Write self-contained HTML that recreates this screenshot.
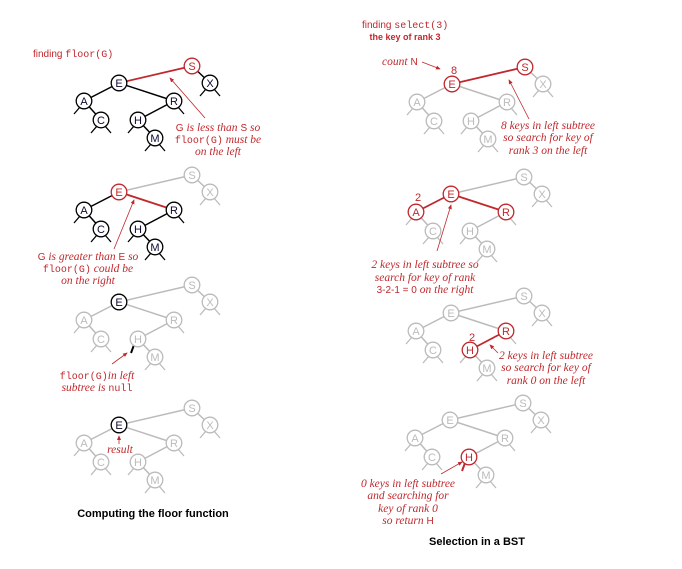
<!DOCTYPE html>
<html><head><meta charset="utf-8">
<style>
body{margin:0;background:#fff;}
svg{display:block;}
.an{font-family:"Liberation Serif",serif;font-style:italic;font-size:11.5px;fill:#c0282d;}
.mo{font-family:"Liberation Mono",monospace;font-style:normal;font-size:10px;}
.sn{font-family:"Liberation Sans",sans-serif;font-style:normal;font-size:10px;}
.tt{font-family:"Liberation Sans",sans-serif;font-weight:bold;font-size:11px;fill:#000;}
.hd{font-family:"Liberation Sans",sans-serif;font-size:10px;fill:#c0282d;}
</style></head>
<body>
<svg id="c" width="682" height="569" viewBox="0 0 682 569">
<defs><marker id="ar" markerWidth="6" markerHeight="6" refX="5" refY="3" orient="auto"><path d="M0,0.5 L6,3 L0,5.5 z" fill="#c0282d"/></marker></defs>
<g id="trees"></g>
<g>
<text class="hd" x="33" y="57">finding <tspan class="mo">floor(G)</tspan></text>
<text class="an" text-anchor="middle"><tspan x="218" y="131"><tspan class="sn">G</tspan> is less than <tspan class="sn">S</tspan> so</tspan><tspan x="218" y="143"><tspan class="mo">floor(G)</tspan> must be</tspan><tspan x="218" y="155">on the left</tspan></text>
<line x1="205" y1="118" x2="170" y2="78" stroke="#c0282d" stroke-width="0.8" marker-end="url(#ar)"/>
<text class="an" text-anchor="middle"><tspan x="88" y="260"><tspan class="sn">G</tspan> is greater than <tspan class="sn">E</tspan> so</tspan><tspan x="88" y="272"><tspan class="mo">floor(G)</tspan> could be</tspan><tspan x="88" y="284">on the right</tspan></text>
<line x1="114" y1="249" x2="134" y2="200" stroke="#c0282d" stroke-width="0.8" marker-end="url(#ar)"/>
<text class="an" text-anchor="middle"><tspan x="97" y="379"><tspan class="mo">floor(G)</tspan>in left</tspan><tspan x="97" y="391">subtree is <tspan class="mo">null</tspan></tspan></text>
<line x1="112" y1="364" x2="127" y2="353" stroke="#c0282d" stroke-width="0.8" marker-end="url(#ar)"/>
<text class="an" x="120" y="453" text-anchor="middle">result</text>
<line x1="119" y1="444" x2="119" y2="436" stroke="#c0282d" stroke-width="0.8" marker-end="url(#ar)"/>
<text class="tt" x="153" y="517" text-anchor="middle">Computing the floor function</text>

<text class="hd" x="362" y="28">finding <tspan class="mo">select(3)</tspan></text>
<text class="hd" x="405" y="40" text-anchor="middle" style="font-weight:bold;font-size:9px">the key of rank 3</text>
<text class="an" x="382" y="65">count <tspan class="sn">N</tspan></text>
<line x1="422" y1="62" x2="440" y2="69" stroke="#c0282d" stroke-width="0.8" marker-end="url(#ar)"/>
<text class="hd" x="454" y="74" text-anchor="middle" style="font-size:11px">8</text>
<text class="an" text-anchor="middle"><tspan x="548" y="129">8 keys in left subtree</tspan><tspan x="548" y="141">so search for key of</tspan><tspan x="548" y="154">rank 3 on the left</tspan></text>
<line x1="529" y1="119" x2="509" y2="80" stroke="#c0282d" stroke-width="0.8" marker-end="url(#ar)"/>
<text class="hd" x="418" y="201" text-anchor="middle" style="font-size:11px">2</text>
<text class="an" text-anchor="middle"><tspan x="425" y="268">2 keys in left subtree so</tspan><tspan x="425" y="281">search for key of rank</tspan><tspan x="425" y="293"><tspan class="sn">3-2-1 = 0</tspan> on the right</tspan></text>
<line x1="437" y1="251" x2="451" y2="205" stroke="#c0282d" stroke-width="0.8" marker-end="url(#ar)"/>
<text class="hd" x="472" y="341" text-anchor="middle" style="font-size:11px">2</text>
<text class="an" text-anchor="middle"><tspan x="546" y="359">2 keys in left subtree</tspan><tspan x="546" y="371">so search for key of</tspan><tspan x="546" y="384">rank 0 on the left</tspan></text>
<line x1="498" y1="353" x2="490" y2="345" stroke="#c0282d" stroke-width="0.8" marker-end="url(#ar)"/>
<text class="an" text-anchor="middle"><tspan x="408" y="487">0 keys in left subtree</tspan><tspan x="408" y="499">and searching for</tspan><tspan x="408" y="512">key of rank 0</tspan><tspan x="408" y="524">so return <tspan class="sn">H</tspan></tspan></text>
<line x1="441" y1="474" x2="462" y2="462" stroke="#c0282d" stroke-width="0.8" marker-end="url(#ar)"/>
<text class="tt" x="477" y="545" text-anchor="middle">Selection in a BST</text>
</g>
</svg>
<script>
const keys=['S','X','E','A','C','R','H','M'];
const relX=[0,18,-73,-108,-91,-18,-54,-37];
const relY=[0,17,17,35,54,35,54,72];
const edges=[['S','X'],['S','E'],['E','A'],['E','R'],['A','C'],['R','H'],['H','M']];
const stubs={A:['l'],C:['l','r'],H:['l'],M:['l','r'],R:['r'],X:['l','r']};
const B='#000',G='#bbb',R='#c0282d';
const trees=[
 {o:[192,66],d:B,n:{S:R},e:{'S-E':R},s:{}},
 {o:[192,175],d:B,n:{S:G,X:G,E:R},e:{'S-E':G,'S-X':G,'E-R':R},s:{'X-l':G,'X-r':G}},
 {o:[192,285],d:G,n:{E:B},e:{},s:{'H-l':B}},
 {o:[192,408],d:G,n:{E:B},e:{},s:{}},
 {o:[525,67],d:G,n:{E:R,S:R},e:{'S-E':R},s:{}},
 {o:[524,177],d:G,n:{E:R,A:R,R:R},e:{'E-A':R,'E-R':R},s:{}},
 {o:[524,296],d:G,n:{R:R,H:R},e:{'R-H':R},s:{}},
 {o:[523,403],d:G,n:{H:R},e:{},s:{'H-l':R}}
];
const NS='http://www.w3.org/2000/svg';
const root=document.getElementById('trees');
function mk(t,a,p){const el=document.createElementNS(NS,t);for(const k in a)el.setAttribute(k,a[k]);p.appendChild(el);return el;}
trees.forEach((t,ti)=>{
 const g=mk('g',{},root);
 
 
 const pos={};keys.forEach((k,i)=>pos[k]=[t.o[0]+relX[i],t.o[1]+relY[i]]);
 edges.forEach(([a,b])=>{
  const c=t.e[a+'-'+b]||(t.d===B?(t.n[b]===G?G:B):G);
  const col=(t.d===B&&(t.n[a]===G||t.n[b]===G))?G:c;
  const ln=mk('line',{x1:pos[a][0],y1:pos[a][1],x2:pos[b][0],y2:pos[b][1],stroke:col,'stroke-width':col===R?1.8:1.5},g);
  
  
 });
 for(const k in stubs){stubs[k].forEach(s=>{
  const [x,y]=pos[k];const dx=s==='l'?-1:1;
  let col=t.s[k+'-'+s]||t.n[k]||t.d; if(col===R&&!t.s[k+'-'+s])col=t.d;
  const special=!!t.s[k+'-'+s]&&col!==G;
  const sl=mk('line',{x1:x+dx*4,y1:y+6,x2:x+dx*(special?7:10),y2:y+(special?14:13),stroke:col,'stroke-width':special?2:1.3},g);
  
  
 });}
 keys.forEach(k=>{
  const c=t.n[k]||t.d;const [x,y]=pos[k];
  const ci=mk('circle',{cx:x,cy:y,r:7.8,fill:'#fff',stroke:c,'stroke-width':1.3},g);
  
  
  const tx=mk('text',{x:x,y:y+4,'text-anchor':'middle','font-family':'Liberation Sans, sans-serif','font-size':'11',fill:c===B?'#0a0a30':c},g);
  tx.textContent=k;
  
  
 });
});
</script>
</body></html>
